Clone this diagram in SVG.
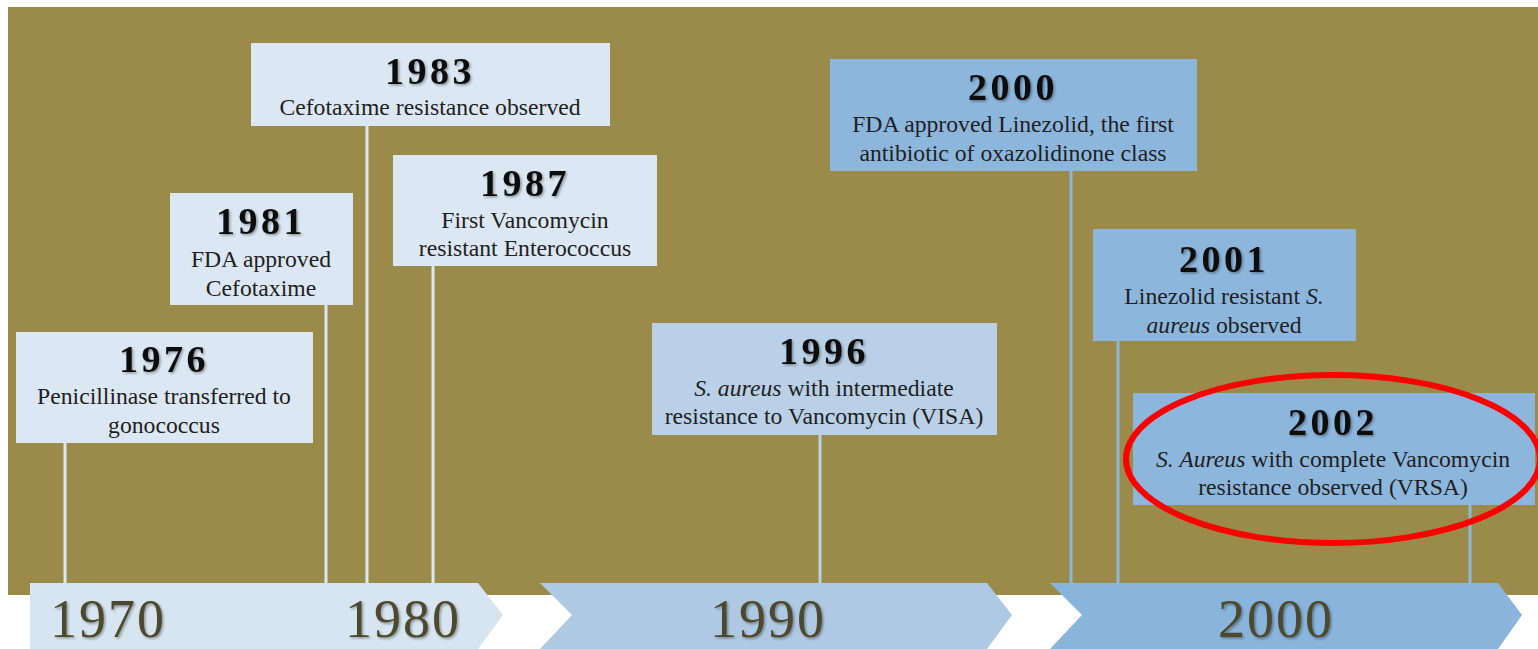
<svg xmlns="http://www.w3.org/2000/svg" width="1538" height="649" viewBox="0 0 1538 649">
<defs>
<style>
.bg{fill:#9b8b4b}
.b1{fill:#dbe7f2}
.b2{fill:#b9d0e7}
.b3{fill:#8db6dd}
.s1{stroke:#dbe7f2;stroke-width:3}
.s2{stroke:#b9d0e7;stroke-width:3}
.s3{stroke:#8db6dd;stroke-width:3}
.yr{font-family:"Liberation Serif","Times New Roman",serif;font-weight:bold;font-size:38px;letter-spacing:3.5px;fill:#111;text-anchor:middle}
.tx{font-family:"Liberation Serif","Times New Roman",serif;font-size:23.7px;fill:#1f1f1f;text-anchor:middle}
.ax{font-family:"Liberation Serif","Times New Roman",serif;font-size:54px;letter-spacing:2px;fill:#4d4a2e;text-anchor:middle}
</style>
<filter id="sh" x="-10%" y="-10%" width="120%" height="130%">
<feDropShadow dx="1.5" dy="1.5" stdDeviation="1.2" flood-color="#000" flood-opacity="0.35"/>
</filter>
</defs>
<rect x="0" y="0" width="1538" height="649" fill="#fff"/>
<rect class="bg" x="8" y="7" width="1530" height="588"/>
<g id="connectors">
<line class="s1" x1="65" y1="443" x2="65" y2="590"/>
<line class="s1" x1="326" y1="305" x2="326" y2="590"/>
<line class="s1" x1="367" y1="126" x2="367" y2="590"/>
<line class="s1" x1="433" y1="266" x2="433" y2="590"/>
<line class="s2" x1="820" y1="435" x2="820" y2="590"/>
<line class="s3" x1="1071" y1="171" x2="1071" y2="590"/>
<line class="s3" x1="1118" y1="341" x2="1118" y2="590"/>
<line class="s3" x1="1470" y1="505" x2="1470" y2="590"/>
</g>
<g id="axis">
<polygon fill="#d7e5f1" points="30,583 478,583 503,615 478,649 30,649"/>
<polygon fill="#afc9e3" points="540,583 987,583 1012,615 987,649 540,649 572,615"/>
<polygon fill="#89b4dc" points="1050,583 1498,583 1522,615 1498,649 1050,649 1082,615"/>
<text class="ax" x="108" y="637" filter="url(#sh)">1970</text>
<text class="ax" x="403" y="637" filter="url(#sh)">1980</text>
<text class="ax" x="768" y="637" filter="url(#sh)">1990</text>
<text class="ax" x="1276" y="637" filter="url(#sh)">2000</text>
</g>
<g id="n1976">
<rect class="b1" x="16" y="332" width="297" height="111"/>
<text class="yr" x="164" y="372" filter="url(#sh)">1976</text>
<text class="tx" x="164" y="404">Penicillinase transferred to</text>
<text class="tx" x="164" y="433">gonococcus</text>
</g>
<g id="n1981">
<rect class="b1" x="170" y="193" width="183" height="112"/>
<text class="yr" x="261" y="234" filter="url(#sh)">1981</text>
<text class="tx" x="261" y="267">FDA approved</text>
<text class="tx" x="261" y="296">Cefotaxime</text>
</g>
<g id="n1983">
<rect class="b1" x="251" y="43" width="359" height="83"/>
<text class="yr" x="430" y="84" filter="url(#sh)">1983</text>
<text class="tx" x="430" y="115">Cefotaxime resistance observed</text>
</g>
<g id="n1987">
<rect class="b1" x="393" y="155" width="264" height="111"/>
<text class="yr" x="525" y="196" filter="url(#sh)">1987</text>
<text class="tx" x="525" y="228">First Vancomycin</text>
<text class="tx" x="525" y="256">resistant Enterococcus</text>
</g>
<g id="n1996">
<rect class="b2" x="652" y="323" width="345" height="112"/>
<text class="yr" x="824" y="364" filter="url(#sh)">1996</text>
<text class="tx" x="824" y="396"><tspan font-style="italic">S. aureus</tspan> with intermediate</text>
<text class="tx" x="824" y="424">resistance to Vancomycin (VISA)</text>
</g>
<g id="n2000">
<rect class="b3" x="830" y="59" width="367" height="112"/>
<text class="yr" x="1013" y="100" filter="url(#sh)">2000</text>
<text class="tx" x="1013" y="132">FDA approved Linezolid, the first</text>
<text class="tx" x="1013" y="161">antibiotic of oxazolidinone class</text>
</g>
<g id="n2001">
<rect class="b3" x="1093" y="229" width="263" height="112"/>
<text class="yr" x="1224" y="272" filter="url(#sh)">2001</text>
<text class="tx" x="1224" y="304">Linezolid resistant <tspan font-style="italic">S.</tspan></text>
<text class="tx" x="1224" y="333"><tspan font-style="italic">aureus</tspan> observed</text>
</g>
<g id="n2002">
<rect class="b3" x="1133" y="393" width="402" height="112"/>
<text class="yr" x="1333" y="435" filter="url(#sh)">2002</text>
<text class="tx" x="1333" y="467"><tspan font-style="italic">S. Aureus</tspan> with complete Vancomycin</text>
<text class="tx" x="1333" y="495">resistance observed (VRSA)</text>
</g>
<ellipse id="highlight" cx="1333" cy="459" rx="207" ry="84" fill="none" stroke="#f00" stroke-width="6"/>
</svg>
